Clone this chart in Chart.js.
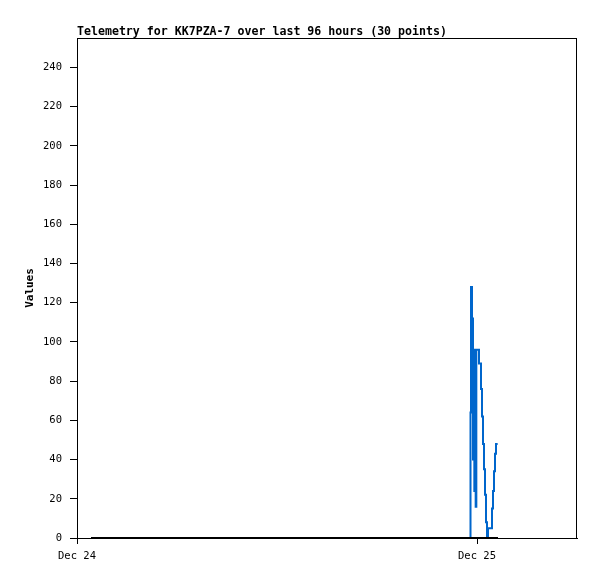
<!DOCTYPE html>
<html>
<head>
<meta charset="utf-8">
<script src="https://cdn.jsdelivr.net/npm/chart.js@4/dist/chart.umd.min.js"></script>
<style>
html,body{margin:0;padding:0;background:#fff;}
#wrap{width:597px;height:579px;position:relative;}
</style>
</head>
<body>
<div id="wrap"><canvas id="c" width="597" height="579"></canvas></div>
<script>
// Hours since Dec 24 00:00
const titleText = "Telemetry for KK7PZA-7 over last 96 hours (30 points)";
const yTickValues = [0,20,40,60,80,100,120,140,160,180,200,220,240];
const xTickValues = [0,24];
const xTickLabels = ["Dec 24","Dec 25"];
const zeroTimes = [0.84, 25.26];
const zeroValues = [0, 0];
const blueTimes = [23.61,23.64,23.70,23.76,23.80,23.84,23.88,23.92,23.96,24.00,24.12,24.24,24.30,24.36,24.42,24.48,24.54,24.60,24.66,24.90,24.96,25.02,25.08,25.14,25.20,25.24];
const blueValues = [0,64,128,112,40,96,24,96,16,96,96,89,76,62,48,35,22,8,0,5,15,24,34,43,48,48];

const toXY = (t,v)=>t.map((x,i)=>({x:x,y:v[i]}));

const framePlugin = {
  id:'frame',
  afterDraw(chart){
    const {ctx, chartArea:a} = chart;
    ctx.save();
    ctx.strokeStyle = '#000';
    ctx.lineWidth = 1;
    ctx.strokeRect(Math.round(a.left)+0.5, Math.round(a.top)+0.5, Math.round(a.right-a.left)-1, Math.round(a.bottom-a.top));
    ctx.fillStyle = '#000';
    ctx.font = 'bold 11.6px "DejaVu Sans Mono", monospace';
    ctx.textBaseline = 'alphabetic';
    ctx.textAlign = 'left';
    ctx.fillText(titleText, 77, 34.5);
    ctx.restore();
  }
};

new Chart(document.getElementById('c'), {
  type:'line',
  data:{
    datasets:[
      {data: toXY(zeroTimes, zeroValues), borderColor:'#000000', borderWidth:2, pointRadius:0, fill:false, tension:0},
      {data: toXY(blueTimes, blueValues), borderColor:'#0066cc', borderWidth:2, pointRadius:0, fill:false, stepped:'after', tension:0}
    ]
  },
  options:{
    responsive:false,
    animation:false,
    events:[],
    layout:{padding:{left:0, top:38, right:20, bottom:0}},
    plugins:{legend:{display:false}, tooltip:{enabled:false}, title:{display:false}},
    scales:{
      x:{
        type:'linear', min:0, max:30,
        afterBuildTicks(s){ s.ticks = xTickValues.map(v=>({value:v})); },
        afterFit(s){ s.height = 41; },
        grid:{display:true, drawOnChartArea:false, drawTicks:true, tickLength:6, color:'#000', lineWidth:1},
        border:{display:true, color:'#000', width:1},
        ticks:{
          autoSkip:false, maxRotation:0, padding:6, color:'#000',
          font:{family:'"DejaVu Sans Mono", monospace', size:10.5},
          callback(v){ const i = xTickValues.indexOf(v); return i>=0 ? xTickLabels[i] : ''; }
        }
      },
      y:{
        type:'linear', min:0, max:255,
        afterBuildTicks(s){ s.ticks = yTickValues.map(v=>({value:v})); },
        afterFit(s){ s.width = 77; },
        grid:{display:true, drawOnChartArea:false, drawTicks:true, tickLength:7, color:'#000', lineWidth:1},
        border:{display:true, color:'#000', width:1},
        ticks:{
          autoSkip:false, padding:8, color:'#000',
          font:{family:'"DejaVu Sans Mono", monospace', size:10.5}
        },
        title:{
          display:true, text:'Values', color:'#000',
          font:{family:'"DejaVu Sans Mono", monospace', size:11, weight:'bold'},
          padding:{top:24, bottom:0}
        }
      }
    }
  },
  plugins:[framePlugin]
});
</script>
</body>
</html>
